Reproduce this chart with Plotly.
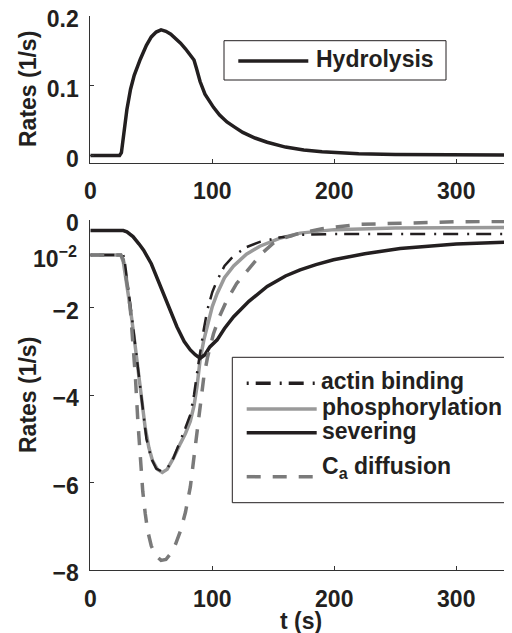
import plotly.graph_objects as go

# ---------------- data ----------------
hyd_t = [0, 24, 25.5, 28, 30, 33, 36, 41, 46, 50, 54, 58, 62, 66, 70, 74, 78, 82, 85, 87, 90, 94, 98, 101,
         106, 112, 118, 125, 135, 145, 160, 175, 190, 200, 220, 250, 300, 350]
hyd_v = [0.0, 0.0, 0.004, 0.04, 0.066, 0.095, 0.115, 0.138, 0.158, 0.170, 0.177, 0.180, 0.178, 0.174, 0.168,
         0.161, 0.153, 0.144, 0.137, 0.125, 0.106, 0.088, 0.076, 0.069, 0.058, 0.048, 0.041, 0.033, 0.025,
         0.019, 0.012, 0.0078, 0.0052, 0.004, 0.0025, 0.0015, 0.0008, 0.0005]

sev_t = [0, 27, 30, 35, 40, 43.7, 50, 57.4, 64, 71, 77, 82, 86, 90, 94, 98, 104, 110, 117.5, 130, 145, 160,
         172, 185, 199.4, 225, 254, 300, 350]
sev_v = [-0.24, -0.24, -0.27, -0.38, -0.55, -0.69, -1.0, -1.52, -1.98, -2.44, -2.78, -2.97, -3.08, -3.16,
         -3.08, -2.9, -2.74, -2.48, -2.21, -1.86, -1.52, -1.28, -1.14, -1.02, -0.91, -0.77, -0.65, -0.55, -0.50]

pho_t = [0, 25, 27, 30, 33, 36, 39, 42, 45, 48, 51, 55, 59, 63, 68, 74, 78, 82, 85, 87.5, 90, 93, 96, 100,
         104, 110, 117.5, 128, 139, 155, 172, 200, 250, 350]
pho_v = [-0.8, -0.8, -0.95, -1.45, -2.05, -2.7, -3.35, -4.1, -4.75, -5.2, -5.5, -5.7, -5.77, -5.7, -5.45,
         -5.1, -4.88, -4.6, -4.25, -3.8, -3.2, -2.75, -2.4, -1.98, -1.68, -1.32, -1.05, -0.78, -0.6, -0.42,
         -0.3, -0.22, -0.18, -0.17]

act_t = [0, 27, 28, 31, 34, 37, 40, 43, 46, 50, 54, 58.7, 63, 68, 74, 78, 82, 85, 88, 90, 93, 96, 100, 104,
         110, 117.5, 128, 139, 155, 172, 200, 350]
act_v = [-0.8, -0.8, -0.9, -1.5, -2.2, -2.9, -3.6, -4.4, -5.0, -5.45, -5.68, -5.75, -5.68, -5.45, -5.05,
         -4.75, -4.45, -4.0, -3.4, -3.0, -2.5, -2.05, -1.65, -1.38, -1.05, -0.82, -0.62, -0.5, -0.40, -0.34,
         -0.32, -0.32]

ca_t = [0, 25, 27, 29, 31, 33, 35, 37, 39, 41, 43, 45, 47, 50, 54, 58, 62, 66, 70, 74, 78, 82, 86, 88, 90,
        93, 96, 101, 106, 112, 120, 131, 140, 150, 160, 172, 190, 220, 260, 300, 350]
ca_v = [-0.8, -0.8, -0.9, -1.2, -1.6, -2.1, -2.8, -3.6, -4.6, -5.5, -6.2, -6.7, -7.1, -7.45, -7.68, -7.78,
        -7.76, -7.62, -7.4, -7.1, -6.68, -6.1, -5.2, -4.7, -4.15, -3.6, -3.15, -2.6, -2.2, -1.83, -1.45,
        -1.07, -0.78, -0.53, -0.4, -0.3, -0.2, -0.1, -0.06, -0.04, -0.03]

top_yticks = [0, 0.1, 0.2]
top_yticklabels = ["0", "0.1", "0.2"]
bot_yticks = [0, -2, -4, -6, -8]
xticks = [0, 100, 200, 300]

# ---------------- styling ----------------
W, H = 512, 633
OFF = 8  # page body margin: the figure is drawn 8 px right and down in the window
FONT = "Liberation Sans"
INK = "#231f20"
BLACK = "#231f20"
LGRAY = "#9a9a9a"
DGRAY = "#7a7a7a"
LW = 3.5
DASHDOT = "2px,7px,15px,9px"
DASH = "14px,12px"


def X(px):
    return (px - OFF) / W


def Y(py):
    return 1 - (py - OFF) / H


fig = go.Figure()
fig.add_trace(go.Scatter(x=hyd_t, y=hyd_v, mode="lines", line=dict(color=BLACK, width=LW),
                         xaxis="x", yaxis="y", showlegend=False))
fig.add_trace(go.Scatter(x=pho_t, y=pho_v, mode="lines", line=dict(color=LGRAY, width=LW),
                         xaxis="x2", yaxis="y2", showlegend=False))
fig.add_trace(go.Scatter(x=act_t, y=act_v, mode="lines", line=dict(color=BLACK, width=2.5, dash=DASHDOT),
                         xaxis="x2", yaxis="y2", showlegend=False))
fig.add_trace(go.Scatter(x=sev_t, y=sev_v, mode="lines", line=dict(color=BLACK, width=LW),
                         xaxis="x2", yaxis="y2", showlegend=False))
fig.add_trace(go.Scatter(x=ca_t, y=ca_v, mode="lines", line=dict(color=DGRAY, width=LW, dash=DASH),
                         xaxis="x2", yaxis="y2", showlegend=False))

tickfont = dict(family=FONT, size=23, color=INK, weight="bold")
common_x = dict(range=[0, 345.7], tickvals=xticks, ticks="inside", ticklen=4, tickwidth=1,
                tickcolor="#333", showline=True, linecolor="#333", linewidth=1, showgrid=False,
                zeroline=False, tickfont=tickfont, ticklabelstandoff=8, domain=[X(90.3), X(512)],
                automargin=False, ticklabeloverflow="allow")
common_y = dict(ticks="inside", ticklen=4, tickwidth=1, tickcolor="#333", showline=True,
                linecolor="#333", linewidth=1, showgrid=False, zeroline=False, tickfont=tickfont,
                ticklabelstandoff=6, ticklabelshift=3, automargin=False, ticklabeloverflow="allow")

fig.update_layout(
    width=W, height=H, margin=dict(l=0, r=0, t=0, b=0, autoexpand=False),
    paper_bgcolor="white", plot_bgcolor="white", showlegend=False,
    xaxis=dict(**common_x, anchor="y"),
    yaxis=dict(**common_y, range=[-0.0104, 0.2], tickvals=top_yticks, ticktext=top_yticklabels,
               domain=[Y(162.7), Y(16)], anchor="x"),
    xaxis2=dict(**common_x, anchor="y2"),
    yaxis2=dict(**common_y, range=[-8, 0], tickvals=bot_yticks, domain=[Y(570), Y(220)], anchor="x2"),
)

ann_font = dict(family=FONT, size=23, color=INK)
annotations = [
    dict(text="<b>Rates (1/s)</b>", x=X(28), y=Y(89), textangle=-90),
    dict(text="<b>Rates (1/s)</b>", x=X(28), y=Y(395), textangle=-90),
    dict(text="<b>t (s)</b>", x=X(301), y=Y(621)),
    dict(text="<b>10<sup>−2</sup></b>", x=X(32), y=Y(257), xanchor="left"),
    dict(text="<b>Hydrolysis</b>", x=X(315), y=Y(58.5), xanchor="left"),
    dict(text="<b>actin binding</b>", x=X(320), y=Y(381), xanchor="left"),
    dict(text="<b>phosphorylation</b>", x=X(321), y=Y(407), xanchor="left"),
    dict(text="<b>severing</b>", x=X(321), y=Y(431), xanchor="left"),
    dict(text="<b>C<sub>a</sub> diffusion</b>", x=X(321), y=Y(467), xanchor="left"),
]
for a in annotations:
    a.setdefault("xanchor", "center")
    fig.add_annotation(xref="paper", yref="paper", yanchor="middle", showarrow=False, font=ann_font,
                       borderpad=0, **a)

shapes = [
    # top legend
    dict(type="rect", x0=X(224), x1=X(446), y0=Y(40.7), y1=Y(80), line=dict(color=INK, width=1),
         fillcolor="white"),
    dict(type="line", x0=X(238.3), x1=X(308.3), y0=Y(61), y1=Y(61), line=dict(color=BLACK, width=LW)),
    # bottom legend
    dict(type="rect", x0=X(232.3), x1=X(530), y0=Y(357.3), y1=Y(502.7), line=dict(color=INK, width=1),
         fillcolor="white"),
    dict(type="line", x0=X(246.7), x1=X(316.7), y0=Y(383.3), y1=Y(383.3),
         line=dict(color=BLACK, width=LW, dash=DASHDOT)),
    dict(type="line", x0=X(246.7), x1=X(316.7), y0=Y(409), y1=Y(409), line=dict(color=LGRAY, width=LW)),
    dict(type="line", x0=X(246.7), x1=X(316.7), y0=Y(432.7), y1=Y(432.7), line=dict(color=BLACK, width=LW)),
    dict(type="line", x0=X(246.7), x1=X(316.7), y0=Y(476.7), y1=Y(476.7),
         line=dict(color=DGRAY, width=LW, dash=DASH)),
]
for s in shapes:
    fig.add_shape(xref="paper", yref="paper", layer="above", **s)

fig.write_html("out.html")
